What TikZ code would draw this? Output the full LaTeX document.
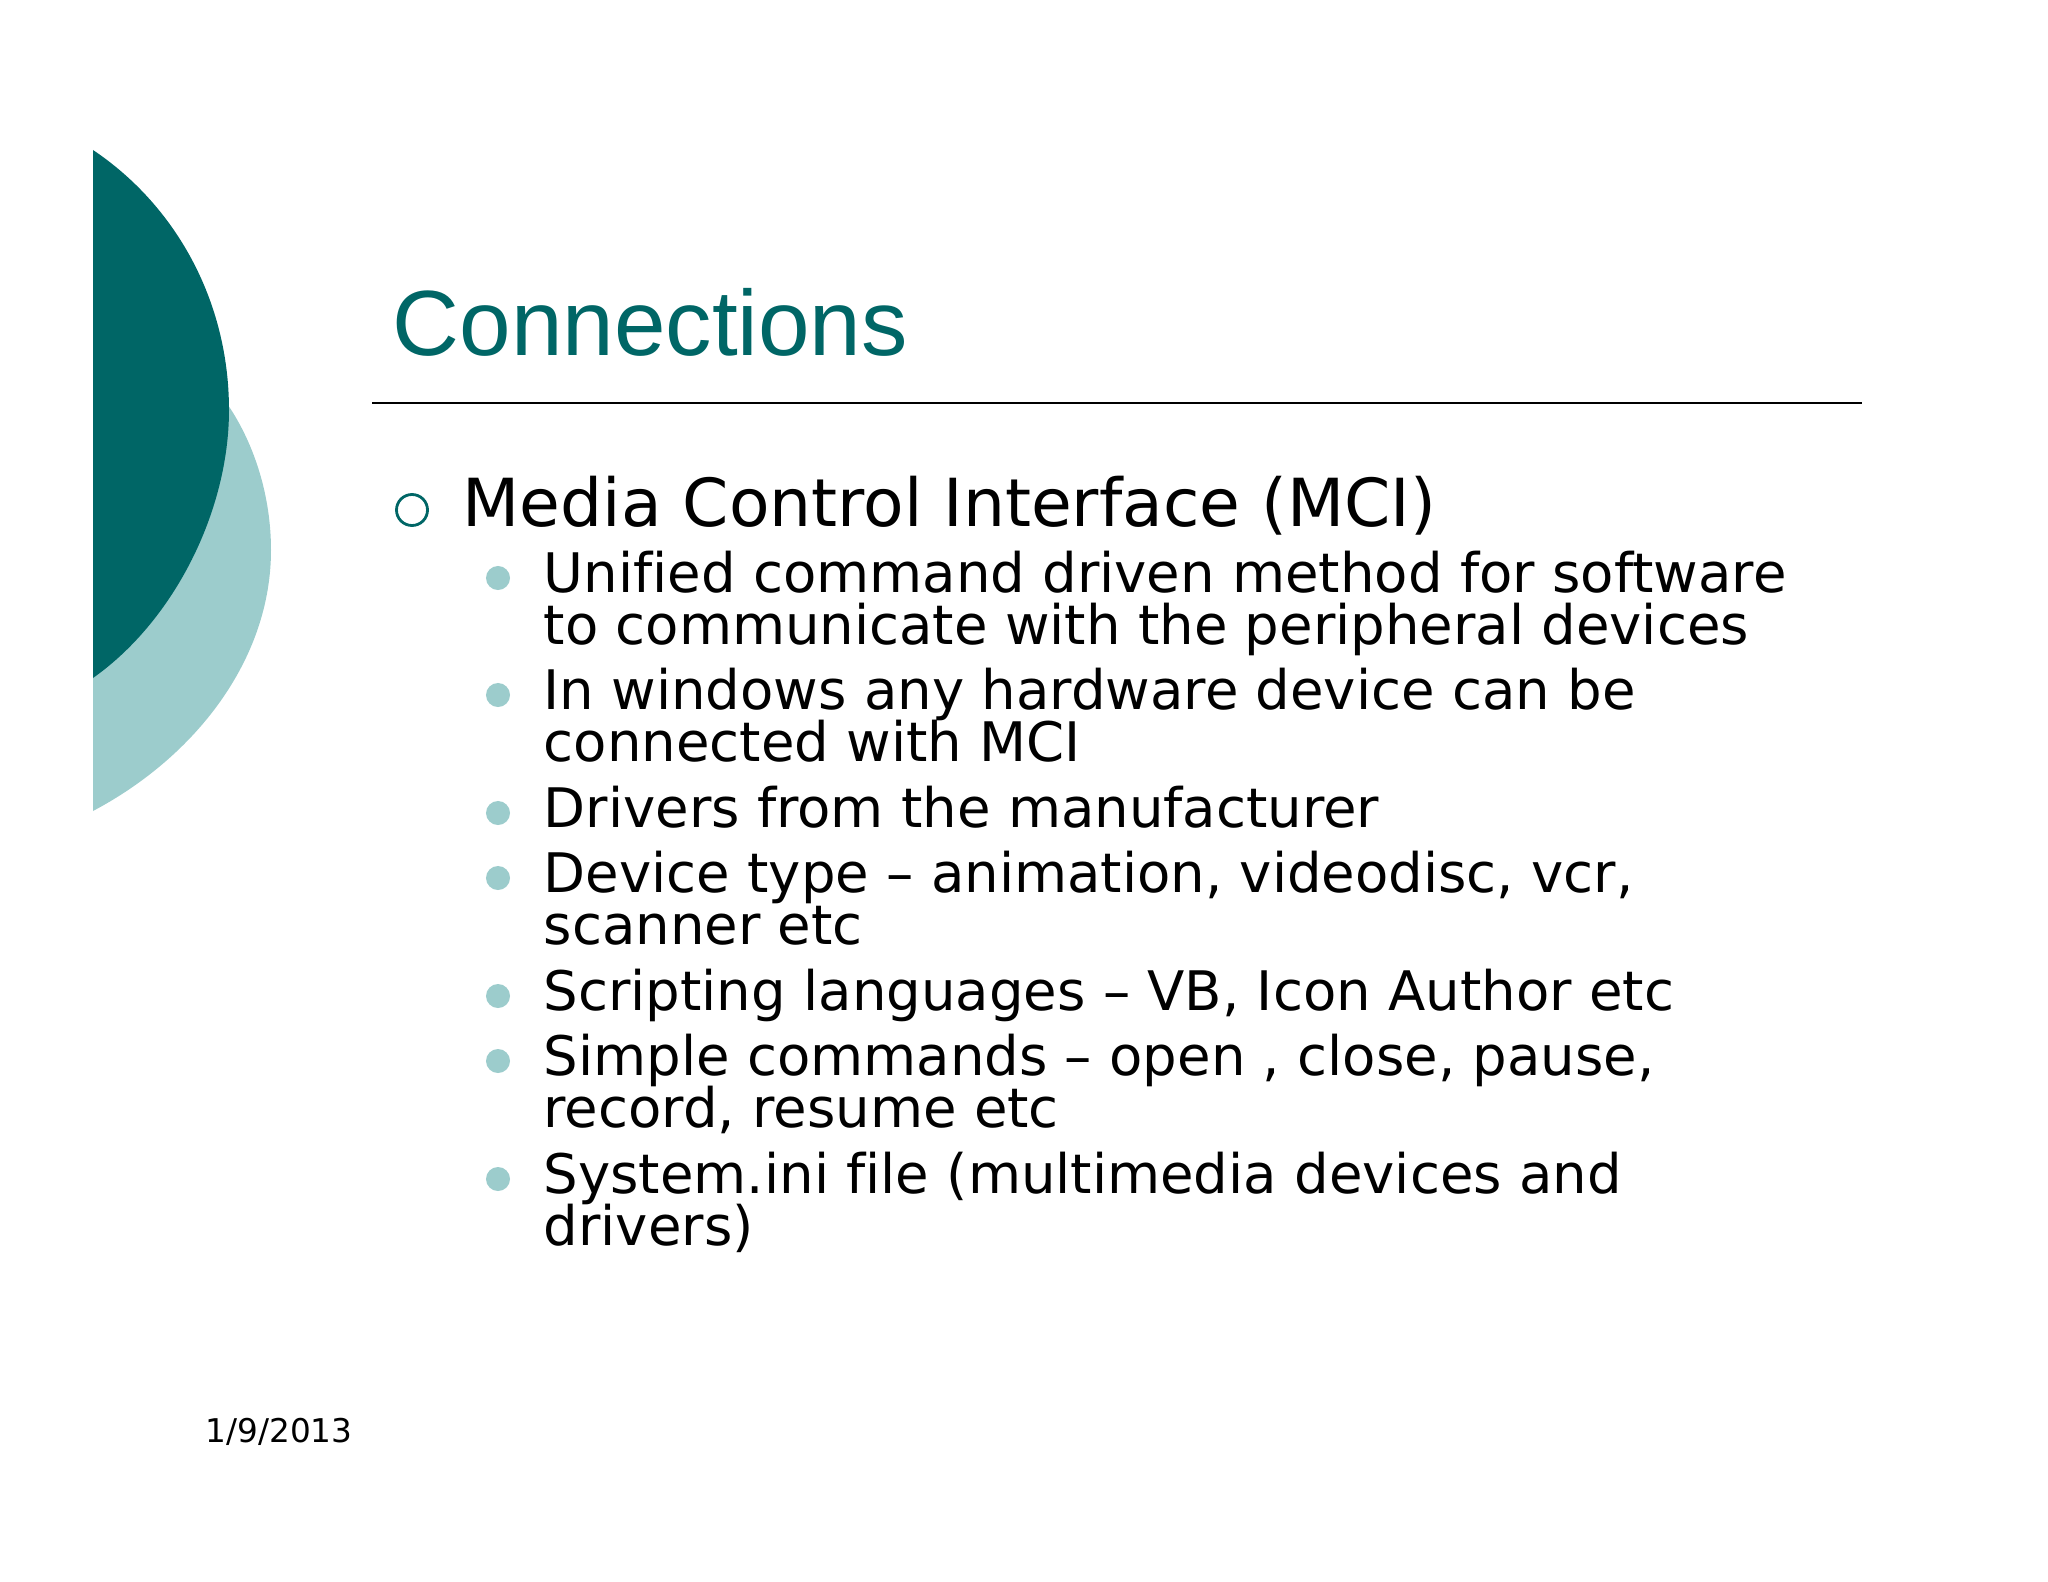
\documentclass[tikz,border=0pt]{standalone}
\usepackage{fontspec}
\setmainfont[Ligatures=NoCommon]{DejaVu Sans}
\newfontfamily\titlefont{Liberation Sans}
\definecolor{darkteal}{HTML}{006666}
\definecolor{lightteal}{HTML}{9CCCCC}
\tikzset{
  head/.style = {anchor=base west,inner sep=0pt,font=\fontsize{18.85}{22}\selectfont},
  item/.style = {anchor=base west,inner sep=0pt,font=\fontsize{15.5}{19}\selectfont},
  dot/.style = {circle,fill=lightteal,inner sep=0pt,minimum size=0.24cm}
}
\begin{document}
\begin{tikzpicture}[x=0.01cm,y=-0.01cm]
      \useasboundingbox (0,0) rectangle (2048,1582);
      \fill[lightteal] (93,480) -- (228,405) .. controls (255,445) and (271,497) .. (271,550)
      .. controls (271,660) and (195,757) .. (93,811) -- cycle;
      \fill[darkteal] (93,150) .. controls (175,205) and (229,300) .. (229,410)
      .. controls (229,510) and (175,620) .. (93,678) -- cycle;

      \node[anchor=base west,inner sep=0pt,text=darkteal,font=\titlefont\fontsize{26.35}{30}\selectfont](title) at (392,356){Connections};
      \coordinate (ruleleft) at (372,403);
      \coordinate (ruleright) at (1862,403);
      \draw[line width=0.7pt] (ruleleft) -- (ruleright);

      \node[circle,draw=darkteal,line width=0.8pt,inner sep=0pt,minimum size=0.31cm](mark) at (412,510){};
      \node[head](mci) at (462,526){Media Control Interface (MCI)};

      \node[dot](d1) at (498,578){};
      \node[item](t1) at (543,592){Unified command driven method for software};
      \node[item](t1b) at (543,644){to communicate with the peripheral devices};
      \node[dot](d2) at (498,695){};
      \node[item](t2) at (543,709){In windows any hardware device can be};
      \node[item](t2b) at (543,761){connected with MCI};
      \node[dot](d3) at (498,813){};
      \node[item](t3) at (543,827){Drivers from the manufacturer};
      \node[dot](d4) at (498,878){};
      \node[item](t4) at (543,892){Device type – animation, videodisc, vcr,};
      \node[item](t4b) at (543,944){scanner etc};
      \node[dot](d5) at (498,996){};
      \node[item](t5) at (543,1010){Scripting languages – VB, Icon Author etc};
      \node[dot](d6) at (498,1061){};
      \node[item](t6) at (543,1075){Simple commands – open , close, pause,};
      \node[item](t6b) at (543,1127){record, resume etc};
      \node[dot](d7) at (498,1179){};
      \node[item](t7) at (543,1193){System.ini file (multimedia devices and};
      \node[item](t7b) at (543,1245){drivers)};

      \node[anchor=base west,inner sep=0pt,font=\fontsize{9.3}{11}\selectfont](date) at (205,1442){1/9/2013};
    \end{tikzpicture}
\end{document}
